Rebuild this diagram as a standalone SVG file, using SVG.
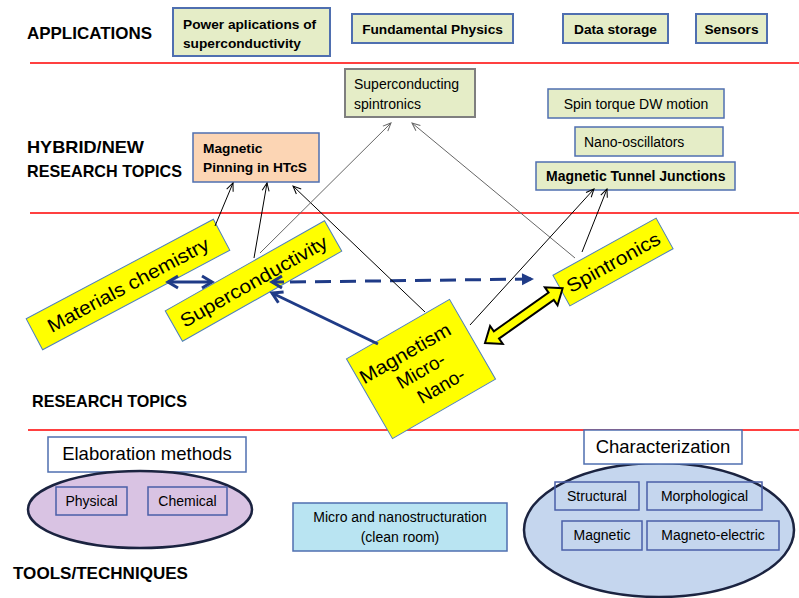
<svg xmlns="http://www.w3.org/2000/svg" width="799" height="598" viewBox="0 0 799 598">
<defs>
<style>
text{font-family:"Liberation Sans",Arial,sans-serif;fill:#000}
.h{font-weight:bold;font-size:17px}
.b{font-weight:bold;font-size:13.7px}
.n{font-size:14px}
.big{font-size:18.5px}
.rt{font-size:19px}
.app{fill:#e5edc7;stroke:#4f6fb0;stroke-width:2}
.hyb{fill:#e5edc7;stroke:#4f6fb0;stroke-width:1.5}
.yel{fill:#ffff00;stroke:#4f81bd;stroke-width:1}
.red{stroke:#ff0000;stroke-width:1.5}
.sub{fill:none;stroke:#4a5fa8;stroke-width:1.5}
.thin{stroke:#000;stroke-width:1;fill:none;marker-end:url(#ab)}
.gray{stroke:#666;stroke-width:1;fill:none;marker-end:url(#ag)}
.blue{stroke:#1f3b87;stroke-width:3;fill:none}
</style>
<marker id="ab" viewBox="0 0 10 10" markerWidth="10" markerHeight="10" refX="9" refY="5" orient="auto" markerUnits="userSpaceOnUse"><path d="M1,1.5 L9,5 L1,8.5" fill="none" stroke="#000" stroke-width="1"/></marker>
<marker id="ag" viewBox="0 0 10 10" markerWidth="10" markerHeight="10" refX="9" refY="5" orient="auto" markerUnits="userSpaceOnUse"><path d="M1,1.5 L9,5 L1,8.5" fill="none" stroke="#666" stroke-width="1"/></marker>
<marker id="chev" viewBox="0 0 16 16" markerWidth="16" markerHeight="16" refX="13" refY="8" orient="auto-start-reverse" markerUnits="userSpaceOnUse"><path d="M3,2 L13,8 L3,14" fill="none" stroke="#1f3b87" stroke-width="3"/></marker>
<marker id="tri" viewBox="0 0 14 14" markerWidth="14" markerHeight="14" refX="12" refY="7" orient="auto" markerUnits="userSpaceOnUse"><path d="M1,1 L13,7 L1,13 Z" fill="#1f3b87"/></marker>
</defs>
<rect width="799" height="598" fill="#fff"/>

<g id="dividers">
<line class="red" x1="30" y1="63" x2="799" y2="63"/>
<line class="red" x1="30" y1="213" x2="799" y2="213"/>
<line class="red" x1="28" y1="430" x2="799" y2="430"/>
</g>

<g id="headings">
<text class="h" x="27" y="39" textLength="125" lengthAdjust="spacingAndGlyphs">APPLICATIONS</text>
<text class="h" x="27" y="153" textLength="117" lengthAdjust="spacingAndGlyphs">HYBRID/NEW</text>
<text class="h" x="27" y="177" textLength="155" lengthAdjust="spacingAndGlyphs">RESEARCH TOPICS</text>
<text class="h" x="32" y="407" textLength="155" lengthAdjust="spacingAndGlyphs">RESEARCH TOPICS</text>
<text class="h" x="13" y="579" textLength="175" lengthAdjust="spacingAndGlyphs">TOOLS/TECHNIQUES</text>
</g>

<g id="power">
<rect class="app" x="173" y="8" width="157" height="48"/>
<text class="b" x="183" y="28.5">Power aplications of</text>
<text class="b" x="183" y="47.5">superconductivity</text>
</g>
<g id="fundamental">
<rect class="app" x="352" y="14" width="161" height="29"/>
<text class="b" x="432.5" y="34" text-anchor="middle">Fundamental Physics</text>
</g>
<g id="datastorage">
<rect class="app" x="563" y="14" width="105" height="29"/>
<text class="b" x="615.5" y="34" text-anchor="middle">Data storage</text>
</g>
<g id="sensors">
<rect class="app" x="696" y="14" width="71" height="29"/>
<text class="b" x="731.5" y="34" text-anchor="middle">Sensors</text>
</g>

<g id="scspin">
<rect x="345" y="69" width="130" height="48" fill="#e5edc7" stroke="#7f7f7f" stroke-width="2"/>
<text class="n" x="354" y="89">Superconducting</text>
<text class="n" x="354" y="109">spintronics</text>
</g>
<g id="spintorque">
<rect class="hyb" x="548" y="89" width="176" height="29"/>
<text class="n" x="636" y="109" text-anchor="middle">Spin torque DW motion</text>
</g>
<g id="nanoosc">
<rect class="hyb" x="575" y="127" width="148" height="29"/>
<text class="n" x="584" y="147">Nano-oscillators</text>
</g>
<g id="mtj">
<rect class="hyb" x="536" y="162" width="199" height="28"/>
<text class="b" x="546" y="181" style="font-size:14px">Magnetic Tunnel Junctions</text>
</g>
<g id="pinning">
<rect x="193" y="133" width="126" height="49" fill="#fcd5b4" stroke="#4f6fb0" stroke-width="1.5"/>
<text class="b" x="203" y="153">Magnetic</text>
<text class="b" x="203" y="172">Pinning in HTcS</text>
</g>

<g id="matchem" transform="translate(128,284.5) rotate(-28)">
<rect class="yel" x="-106" y="-17.5" width="212" height="35"/>
<text class="rt" x="0" y="7" text-anchor="middle" textLength="180" lengthAdjust="spacingAndGlyphs">Materials chemistry</text>
</g>
<g id="supercond" transform="translate(253.5,281) rotate(-29.5)">
<rect class="yel" x="-91.5" y="-17.5" width="183" height="35"/>
<text class="rt" x="0" y="7" text-anchor="middle" textLength="166" lengthAdjust="spacingAndGlyphs">Superconductivity</text>
</g>
<g id="spintronics" transform="translate(613,262) rotate(-29)">
<rect class="yel" x="-59" y="-17.5" width="118" height="35"/>
<text class="rt" x="0" y="7" text-anchor="middle" textLength="104" lengthAdjust="spacingAndGlyphs">Spintronics</text>
</g>
<g id="magnetism" transform="translate(421,369) rotate(-30)">
<rect class="yel" x="-59.5" y="-46" width="119" height="92"/>
<text class="rt" x="-6" y="-15" text-anchor="middle" textLength="102" lengthAdjust="spacingAndGlyphs">Magnetism</text>
<text class="rt" x="-1" y="8" text-anchor="middle">Micro-</text>
<text class="rt" x="9" y="31" text-anchor="middle">Nano-</text>
</g>

<g id="elaboration">
<rect x="48" y="437" width="198" height="35" fill="#fff" stroke="#4f6fb0" stroke-width="1.5"/>
<text class="big" x="147" y="460" text-anchor="middle">Elaboration methods</text>
</g>
<g id="elab-ellipse">
<ellipse cx="140" cy="509.5" rx="112" ry="38.5" fill="#d9c3e3" stroke="#1b2340" stroke-width="2.5"/>
</g>
<g id="physical">
<rect class="sub" x="56" y="487" width="71" height="28"/>
<text class="n" x="91.5" y="506" text-anchor="middle">Physical</text>
</g>
<g id="chemical">
<rect class="sub" x="148" y="487" width="79" height="28"/>
<text class="n" x="187.5" y="506" text-anchor="middle">Chemical</text>
</g>

<g id="microstruct">
<rect x="293" y="503" width="214" height="48" fill="#b9e4f2" stroke="#4f6fb0" stroke-width="1.5"/>
<text class="n" x="400" y="522" text-anchor="middle">Micro and nanostructuration</text>
<text class="n" x="400" y="542" text-anchor="middle">(clean room)</text>
</g>

<g id="charact-ellipse">
<ellipse cx="659" cy="530" rx="135" ry="67" fill="#c5d6ee" stroke="#1b2340" stroke-width="2.5"/>
</g>
<g id="characterization">
<rect x="584" y="430" width="158" height="34" fill="#fff" stroke="#4f6fb0" stroke-width="1.5"/>
<text class="big" x="663" y="453" text-anchor="middle">Characterization</text>
</g>
<g id="structural">
<rect class="sub" x="555" y="482" width="84" height="28"/>
<text class="n" x="597" y="501" text-anchor="middle">Structural</text>
</g>
<g id="morphological">
<rect class="sub" x="647" y="482" width="115" height="28"/>
<text class="n" x="704.5" y="501" text-anchor="middle">Morphological</text>
</g>
<g id="magnetic">
<rect class="sub" x="562" y="521" width="80" height="29"/>
<text class="n" x="602" y="540" text-anchor="middle">Magnetic</text>
</g>
<g id="magnetoelectric">
<rect class="sub" x="647" y="521" width="132" height="29"/>
<text class="n" x="713" y="540" text-anchor="middle">Magneto-electric</text>
</g>

<g id="connectors">
<line class="blue" x1="168" y1="282" x2="212" y2="282" marker-start="url(#chev)" marker-end="url(#chev)"/>
<line class="blue" x1="290" y1="282" x2="533" y2="279" stroke-dasharray="16 9" marker-end="url(#tri)"/>
<line class="blue" x1="284" y1="282" x2="272" y2="282" marker-end="url(#chev)"/>
<line class="blue" x1="378" y1="344" x2="272" y2="293" marker-end="url(#chev)"/>
<polygon transform="translate(485,343) rotate(-35.2)" points="0,0 14,-11 14,-4.5 81,-4.5 81,-11 95,0 81,11 81,4.5 14,4.5 14,11" fill="#ffff00" stroke="#000" stroke-width="2" stroke-linejoin="miter"/>
<line class="thin" x1="215" y1="226" x2="233" y2="183"/>
<line class="thin" x1="254" y1="258" x2="267" y2="183"/>
<line class="thin" x1="425" y1="312" x2="293" y2="186"/>
<line class="gray" x1="260" y1="253" x2="391" y2="123"/>
<line class="gray" x1="575" y1="258" x2="412" y2="123"/>
<line class="thin" x1="470" y1="325" x2="594" y2="189"/>
<line class="thin" x1="582" y1="252" x2="607" y2="189"/>
</g>
</svg>
